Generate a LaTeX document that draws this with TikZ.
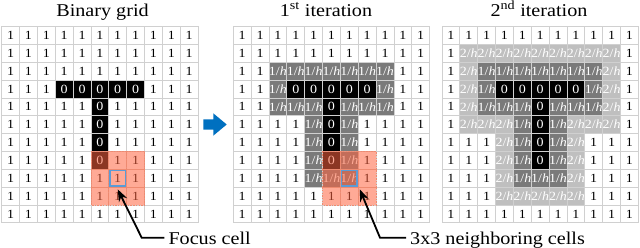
\documentclass[tikz,border=0pt]{standalone}
\usepackage{fontspec}
\setmainfont[FakeStretch=1.12]{Liberation Serif}
\usetikzlibrary{arrows.meta}
\definecolor{gridline}{HTML}{D0D0D0}
\definecolor{oneh}{HTML}{7A7A7A}
\definecolor{twoh}{HTML}{BFBFBF}
\definecolor{salmon}{HTML}{FF6440}
\definecolor{salmonedge}{HTML}{EE8A70}
\definecolor{focusblue}{HTML}{5B9BD5}
\definecolor{stepblue}{HTML}{0070C0}
\newcommand{\cellsz}{17.85}
\newcommand{\gridtop}{26.5}
\newcommand{\cellgrid}[3]{%
  \foreach \row [count=\ri from 0] in {#3} {
    \foreach \v [count=\ci from 0] in \row {
      \node (#1-\ri-\ci) at ({#2+(\ci+0.5)*\cellsz},{\gridtop+(\ri+0.5)*\cellsz}) [cell, c\v];
    }
  }}

\begin{document}
\begin{tikzpicture}[x=1pt, y=-1pt,
    cell/.style={draw=gridline, line width=0.8pt, minimum size=17.85pt, inner sep=0pt, outer sep=0pt, font=\fontsize{12.5}{14}\selectfont},
    c1/.style={node contents={1}},
    c0/.style={fill=black, text=white, node contents={0}},
    ca/.style={fill=oneh, text=white, node contents={1/\textit{h}}},
    cb/.style={fill=twoh, text=white, node contents={2/\textit{h}}},
    title/.style={anchor=base, inner sep=0pt, font=\fontsize{18}{22}\selectfont},
    callout/.style={anchor=base west, inner sep=4pt, font=\fontsize{18}{22}\selectfont},
    pointer/.style={line width=1.8pt, -{Stealth[length=12pt,width=9pt]}}]
  \useasboundingbox (0,0) rectangle (640,247);
  \node[title] (title1) at (102.5,16) {Binary grid};
  \node[title] (title2) at (326,16) {1\textsuperscript{st} iteration};
  \node[title] (title3) at (539,16) {2\textsuperscript{nd} iteration};

  \cellgrid{g1}{1.7}{%
    {1,1,1,1,1,1,1,1,1,1,1},%
    {1,1,1,1,1,1,1,1,1,1,1},%
    {1,1,1,1,1,1,1,1,1,1,1},%
    {1,1,1,0,0,0,0,0,1,1,1},%
    {1,1,1,1,1,0,1,1,1,1,1},%
    {1,1,1,1,1,0,1,1,1,1,1},%
    {1,1,1,1,1,0,1,1,1,1,1},%
    {1,1,1,1,1,0,1,1,1,1,1},%
    {1,1,1,1,1,1,1,1,1,1,1},%
    {1,1,1,1,1,1,1,1,1,1,1},%
    {1,1,1,1,1,1,1,1,1,1,1}}
  \cellgrid{g2}{233.3}{%
    {1,1,1,1,1,1,1,1,1,1,1},%
    {1,1,1,1,1,1,1,1,1,1,1},%
    {1,1,a,a,a,a,a,a,a,1,1},%
    {1,1,a,0,0,0,0,0,a,1,1},%
    {1,1,a,a,a,0,a,a,a,1,1},%
    {1,1,1,1,a,0,a,1,1,1,1},%
    {1,1,1,1,a,0,a,1,1,1,1},%
    {1,1,1,1,a,0,a,1,1,1,1},%
    {1,1,1,1,a,a,a,1,1,1,1},%
    {1,1,1,1,1,1,1,1,1,1,1},%
    {1,1,1,1,1,1,1,1,1,1,1}}
  \cellgrid{g3}{442}{%
    {1,1,1,1,1,1,1,1,1,1,1},%
    {1,b,b,b,b,b,b,b,b,b,1},%
    {1,b,a,a,a,a,a,a,a,b,1},%
    {1,b,a,0,0,0,0,0,a,b,1},%
    {1,b,a,a,a,0,a,a,a,b,1},%
    {1,b,b,b,a,0,a,b,b,b,1},%
    {1,1,1,b,a,0,a,b,1,1,1},%
    {1,1,1,b,a,0,a,b,1,1,1},%
    {1,1,1,b,a,a,a,b,1,1,1},%
    {1,1,1,b,b,b,b,b,1,1,1},%
    {1,1,1,1,1,1,1,1,1,1,1}}

  \foreach \g in {g1,g2} {
    \fill[salmon, fill opacity=0.55] (\g-7-5.north west) rectangle (\g-9-7.south east);
    \foreach \ri in {7,8,9} \foreach \ci in {5,6,7}
      \draw[salmonedge, line width=0.7pt, dash pattern=on 1.5pt off 1.2pt] (\g-\ri-\ci.north west) rectangle (\g-\ri-\ci.south east);
    \draw[focusblue, line width=1.4pt] ([xshift=1.3pt,yshift=-1.3pt]\g-8-6.north west) rectangle ([xshift=-1.3pt,yshift=1.3pt]\g-8-6.south east);
  }

  \fill[stepblue] (203.3,119.3) -- (213.3,119.3) -- (213.3,113.3) -- (226.7,124.5)
    -- (213.3,135.7) -- (213.3,129.7) -- (203.3,129.7) -- cycle;

  \node[callout] (focuslbl) at (164.3,244) {Focus cell};
  \node[callout] (nbrlbl) at (406,244) {3x3 neighboring cells};
  \coordinate (focusbend) at (141.7,237.7);
  \coordinate (nbrbend) at (380,237.7);
  \draw[pointer] (focuslbl.west |- focusbend) -- (focusbend) -- ([yshift=-2.2pt]g1-8-6.south);
  \draw[pointer] (nbrlbl.west |- nbrbend) -- (nbrbend) -- ([xshift=1.5pt,yshift=-2.2pt]g2-8-6.south east);
\end{tikzpicture}
\end{document}
